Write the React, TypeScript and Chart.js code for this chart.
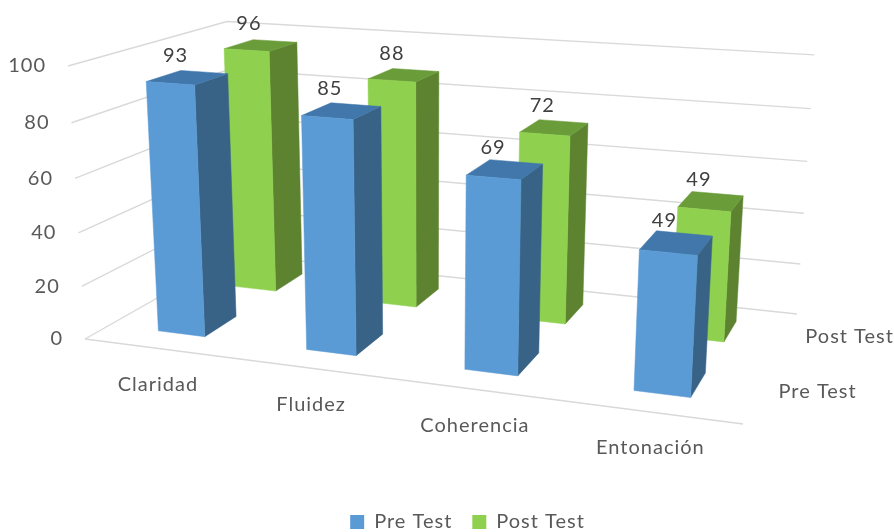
import React, { useEffect, useRef } from "react";
import { Chart, BarController, registerables } from "chart.js";

Chart.register(...registerables);

const categories = ["Claridad", "Fluidez", "Coherencia", "Entonación"];
const preTest = [93, 85, 69, 49];
const postTest = [96, 88, 72, 49];
const valueTicks = [0, 20, 40, 60, 80, 100];

const FONT = "Lato, Calibri, sans-serif";
const TEXT_COLOR = "#595959";
const VALUE_COLOR = "#404040";
const GRID_COLOR = "#d9d9d9";
const BLUE = { front: "#5b9bd5", top: "#4177ab", side: "#386387" };
const GREEN = { front: "#8fd14f", top: "#6a9d3a", side: "#5d8230" };

type Pt = [number, number];

// Floor corners of the perspective box: front-left, front-right, back-right, back-left.
const FLOOR: Pt[] = [[85, 339], [743, 424], [797, 314], [235, 254]];
// Upper end of the two left wall edges: front, back.
const TOP_FRONT: Pt = [68, 66];
const TOP_BACK: Pt = [227, 22];
const HALF_DEPTH = 0.105;

// Projective camera built from the floor homography plus a height column.
function buildCamera() {
  const [p0, p1, p2, p3] = FLOOR;
  const sx = p0[0] - p1[0] + p2[0] - p3[0];
  const sy = p0[1] - p1[1] + p2[1] - p3[1];
  const dx1 = p1[0] - p2[0];
  const dx2 = p3[0] - p2[0];
  const dy1 = p1[1] - p2[1];
  const dy2 = p3[1] - p2[1];
  const den = dx1 * dy2 - dx2 * dy1;
  const g = (sx * dy2 - dx2 * sy) / den;
  const h = (dx1 * sy - sx * dy1) / den;
  const a = p1[0] - p0[0] + g * p1[0];
  const b = p3[0] - p0[0] + h * p3[0];
  const d = p1[1] - p0[1] + g * p1[1];
  const e = p3[1] - p0[1] + h * p3[1];
  const backW = 1 + h;
  const backNx = p3[0] * backW;
  // Height terms solved so both wall edges end at their upper corners.
  const r = (backNx - p0[0] + TOP_FRONT[0] - TOP_BACK[0] * backW) / (TOP_BACK[0] - TOP_FRONT[0]);
  const px = TOP_FRONT[0] * (1 + r) - p0[0];
  const py = TOP_FRONT[1] * (1 + r) - p0[1];
  return (u: number, v: number, t: number): Pt => {
    const w = g * u + h * v + 1 + r * t;
    return [
      (a * u + b * v + p0[0] + px * t) / w,
      (d * u + e * v + p0[1] + py * t) / w,
    ];
  };
}

// u: along the categories, v: into the depth, t: share of the value axis.
const project = buildCamera();

function fillQuad(ctx: CanvasRenderingContext2D, pts: Pt[], color: string) {
  ctx.beginPath();
  pts.forEach((p, i) => (i ? ctx.lineTo(p[0], p[1]) : ctx.moveTo(p[0], p[1])));
  ctx.closePath();
  ctx.fillStyle = color;
  ctx.strokeStyle = color;
  ctx.lineWidth = 0.5;
  ctx.fill();
  ctx.stroke();
}

const depthCentre = (datasetIndex: number) => (datasetIndex + 0.5) / 2;

// Bar controller that lays its bars out as usual and paints them as prisms.
class Bar3DController extends BarController {
  static id = "bar3d";

  draw() {
    const meta = (this as any)._cachedMeta;
    const ctx: CanvasRenderingContext2D = (this as any).chart.ctx;
    const xs = meta.xScale;
    const ys = meta.yScale;
    const ds = (this as any).getDataset();
    const shades = ds.shades;
    const vMid = depthCentre(meta.index);
    const v0 = vMid - HALF_DEPTH;
    const v1 = vMid + HALF_DEPTH;
    meta.data.forEach((bar: any) => {
      const u0 = (bar.x - bar.width / 2 - xs.left) / xs.width;
      const u1 = (bar.x + bar.width / 2 - xs.left) / xs.width;
      const t = (ys.bottom - bar.y) / (ys.bottom - ys.top);
      fillQuad(ctx, [project(u1, v0, 0), project(u1, v1, 0), project(u1, v1, t), project(u1, v0, t)], shades.side);
      fillQuad(ctx, [project(u0, v0, t), project(u1, v0, t), project(u1, v1, t), project(u0, v1, t)], shades.top);
      fillQuad(ctx, [project(u0, v0, 0), project(u1, v0, 0), project(u1, v0, t), project(u0, v0, t)], shades.front);
    });
  }
}
Chart.register(Bar3DController);

function setText(ctx: CanvasRenderingContext2D, align: CanvasTextAlign, color = TEXT_COLOR) {
  ctx.font = `20px ${FONT}`;
  ctx.fillStyle = color;
  ctx.textAlign = align;
  ctx.textBaseline = "middle";
  (ctx as any).letterSpacing = "1px";
}

const spacedText = {
  id: "spacedText",
  beforeLayout(chart: any) {
    chart.ctx.letterSpacing = "1px";
  },
  beforeDraw(chart: any) {
    chart.ctx.letterSpacing = "1px";
  },
};

// Walls, floor edge and every axis caption of the box.
const box3d = {
  id: "box3d",
  beforeDatasetsDraw(chart: any) {
    const { ctx } = chart;
    const ys = chart.scales.y;
    const xs = chart.scales.x;
    ctx.save();
    ctx.strokeStyle = GRID_COLOR;
    ctx.lineWidth = 1.4;
    ys.ticks.forEach((tick: any) => {
      const t = (ys.bottom - ys.getPixelForValue(tick.value)) / (ys.bottom - ys.top);
      const a = project(0, 0, t);
      const b = project(0, 1, t);
      const c = project(1, 1, t);
      ctx.beginPath();
      ctx.moveTo(a[0], a[1]);
      ctx.lineTo(b[0], b[1]);
      ctx.lineTo(c[0], c[1]);
      ctx.stroke();
      setText(ctx, "right");
      ctx.fillText(String(tick.value), a[0] - 22, a[1]);
    });
    const fl = project(0, 0, 0);
    const fr = project(1, 0, 0);
    ctx.beginPath();
    ctx.moveTo(fl[0], fl[1]);
    ctx.lineTo(fr[0], fr[1]);
    ctx.stroke();

    setText(ctx, "center");
    xs.ticks.forEach((tick: any, i: number) => {
      const u = (xs.getPixelForTick(i) - xs.left) / xs.width;
      const p = project(u, 0, 0);
      ctx.fillText(tick.label, p[0], p[1] + 36);
    });
    setText(ctx, "left");
    chart.data.datasets.forEach((ds: any, i: number) => {
      const p = project(1, depthCentre(i), 0);
      ctx.fillText(ds.label, p[0] + 20, p[1] - 1);
    });
    ctx.restore();
  },
  afterDatasetsDraw(chart: any) {
    const { ctx } = chart;
    ctx.save();
    setText(ctx, "center", VALUE_COLOR);
    chart.data.datasets.forEach((ds: any, i: number) => {
      const meta = chart.getDatasetMeta(i);
      const xs = meta.xScale;
      const ys = meta.yScale;
      meta.data.forEach((bar: any, j: number) => {
        const u = (bar.x - xs.left) / xs.width;
        const t = (ys.bottom - bar.y) / (ys.bottom - ys.top);
        const p = project(u, depthCentre(i), t);
        ctx.fillText(String(ds.data[j]), p[0] - 12, p[1] - 22);
      });
    });
    ctx.restore();
  },
};

export default function App() {
  const canvasRef = useRef<HTMLCanvasElement>(null);

  useEffect(() => {
    const chart = new Chart(canvasRef.current as HTMLCanvasElement, {
      type: "bar3d" as any,
      data: {
        labels: categories,
        datasets: [
          { label: "Pre Test", data: preTest, backgroundColor: BLUE.front, shades: BLUE } as any,
          { label: "Post Test", data: postTest, backgroundColor: GREEN.front, shades: GREEN } as any,
        ],
      },
      options: {
        responsive: false,
        animation: false,
        grouped: false,
        categoryPercentage: 1,
        barPercentage: 0.32,
        layout: { padding: { left: 41, bottom: -10 } },
        scales: {
          x: { type: "category", display: false, offset: true },
          y: {
            type: "linear",
            display: false,
            min: valueTicks[0],
            max: valueTicks[valueTicks.length - 1],
            ticks: { stepSize: valueTicks[1] - valueTicks[0] },
          },
        },
        plugins: {
          tooltip: { enabled: false },
          legend: {
            position: "bottom",
            labels: {
              boxWidth: 14,
              boxHeight: 14,
              padding: 20,
              color: TEXT_COLOR,
              font: { family: FONT, size: 20 },
            },
          },
        },
      } as any,
      plugins: [spacedText, box3d],
    });
    return () => chart.destroy();
  }, []);

  return (
    <canvas
      ref={canvasRef}
      width={894}
      height={532}
      style={{ position: "fixed", left: 0, top: 0, display: "block" }}
    />
  );
}
